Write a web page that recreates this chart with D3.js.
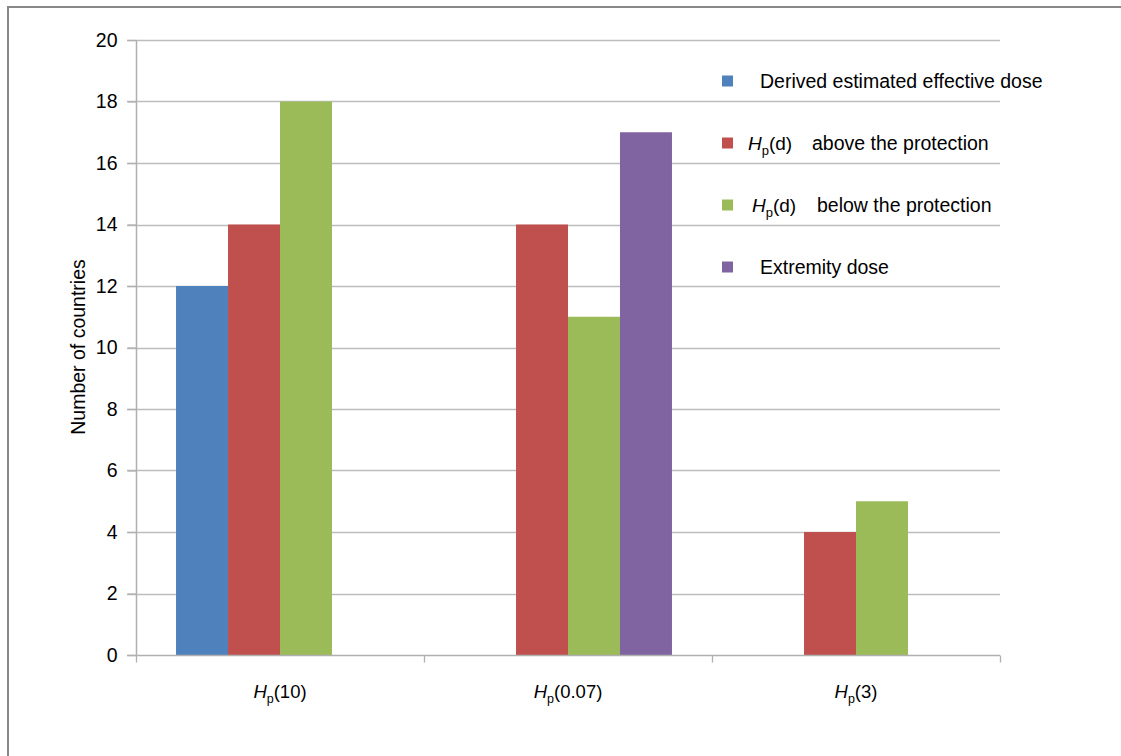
<!DOCTYPE html>
<html>
<head>
<meta charset="utf-8">
<script src="https://cdn.jsdelivr.net/npm/d3@7"></script>
<style>
  html, body { margin: 0; padding: 0; background: #fff; }
  svg { display: block; font-family: "Liberation Sans", "DejaVu Sans", sans-serif; }
</style>
</head>
<body>
<svg id="chart" width="1121" height="756"></svg>
<script>
// Dose quantities on the x axis (subscript p on H)
const categories = ["10", "0.07", "3"];
// Series and their per-category country counts (null = not reported)
const seriesNames = ["derived", "above", "below", "extremity"];
const derivedDose = [12, null, null];
const aboveProtection = [14, 14, 4];
const belowProtection = [18, 11, 5];
const extremityDose = [null, 17, null];
const seriesColors = ["#4F81BD", "#C0504D", "#9BBB59", "#8064A2"];
const yTicks = [0, 2, 4, 6, 8, 10, 12, 14, 16, 18, 20];

const seriesValues = [derivedDose, aboveProtection, belowProtection, extremityDose];

const svg = d3.select("#chart");
const margin = { left: 136, right: 1000, top: 40, bottom: 655 };

// outer frame (left and top edges visible)
svg.append("line").attr("x1", 8).attr("x2", 8).attr("y1", 7).attr("y2", 756)
  .attr("stroke", "#888").attr("stroke-width", 2);
svg.append("line").attr("x1", 7).attr("x2", 1121).attr("y1", 7).attr("y2", 7)
  .attr("stroke", "#888").attr("stroke-width", 2);

const x = d3.scaleBand().domain(categories).range([margin.left, margin.right]).paddingInner(0).paddingOuter(0);
const xSub = d3.scaleBand().domain(seriesNames).range([0, x.bandwidth()]).paddingOuter(0.77).paddingInner(0);
const y = d3.scaleLinear().domain([0, 20]).range([margin.bottom, margin.top]);

// horizontal gridlines
svg.append("g").selectAll("line").data(yTicks.filter(d => d > 0)).join("line")
  .attr("x1", margin.left - 9).attr("x2", margin.right)
  .attr("y1", d => Math.round(y(d)) + 0.5).attr("y2", d => Math.round(y(d)) + 0.5)
  .attr("stroke", "#BDBDBD").attr("stroke-width", 1.3);

// bars
const bars = [];
categories.forEach((c, i) => {
  seriesNames.forEach((s, j) => {
    const v = seriesValues[j][i];
    if (v != null) bars.push({ c, s, v, color: seriesColors[j] });
  });
});
svg.append("g").selectAll("rect").data(bars).join("rect")
  .attr("x", d => x(d.c) + xSub(d.s))
  .attr("width", xSub.bandwidth())
  .attr("y", d => y(d.v))
  .attr("height", d => y(0) - y(d.v))
  .attr("fill", d => d.color);

// y axis
const yAxis = svg.append("g").attr("transform", `translate(${margin.left + 0.5},0)`)
  .call(d3.axisLeft(y).tickValues(yTicks).tickSize(9).tickPadding(10).tickFormat(d3.format("d")));
yAxis.attr("font-size", null).attr("font-family", null);
yAxis.select(".domain").attr("stroke", "#B0B0B0").attr("stroke-width", 1.5).attr("d", `M0,${margin.top}V${margin.bottom}`);
yAxis.selectAll(".tick line").attr("stroke", "#B0B0B0").attr("stroke-width", 1.3);
yAxis.selectAll(".tick text").style("font-size", "19.5px").attr("fill", "#000");

// x axis
const xAxisG = svg.append("g").attr("transform", `translate(0,${Math.round(y(0)) + 0.5})`);
xAxisG.append("line").attr("x1", margin.left - 9).attr("x2", margin.right).attr("y1", 0).attr("y2", 0)
  .attr("stroke", "#B0B0B0").attr("stroke-width", 1.5);
const boundaries = categories.map(c => x(c)).concat([x(categories[categories.length - 1]) + x.bandwidth()]);
xAxisG.selectAll("line.tk").data(boundaries).join("line").attr("class", "tk")
  .attr("x1", d => d + 0.5).attr("x2", d => d + 0.5).attr("y1", 0).attr("y2", 7)
  .attr("stroke", "#B0B0B0").attr("stroke-width", 1.3);

const catLabels = svg.append("g").selectAll("text").data(categories).join("text")
  .attr("x", d => x(d) + x.bandwidth() / 2)
  .attr("y", 698)
  .attr("text-anchor", "middle")
  .style("font-size", "18.5px")
  .attr("fill", "#000");
catLabels.append("tspan").attr("font-style", "italic").text("H");
catLabels.append("tspan").style("font-size", "12.5px").attr("dy", 5).text("p");
catLabels.append("tspan").attr("dy", -5).text(d => `(${d})`);

// y axis title
svg.append("text")
  .attr("transform", "translate(85,347) rotate(-90)")
  .attr("text-anchor", "middle")
  .style("font-size", "19.5px")
  .attr("fill", "#000")
  .text("Number of countries");

// legend
const legendItems = [
  { color: seriesColors[0], top: 81, parts: [{ t: "Derived estimated effective dose", x: 760 }] },
  { color: seriesColors[1], top: 143, hp: 748, parts: [{ t: "above the protection", x: 812 }] },
  { color: seriesColors[2], top: 205, hp: 752, parts: [{ t: "below the protection", x: 817 }] },
  { color: seriesColors[3], top: 267, parts: [{ t: "Extremity dose", x: 760 }] }
];
const lg = svg.append("g");
legendItems.forEach(item => {
  lg.append("rect").attr("x", 722).attr("y", item.top - 5.5).attr("width", 11).attr("height", 11).attr("fill", item.color);
  if (item.hp) {
    const t = lg.append("text").attr("x", item.hp).attr("y", item.top + 7).style("font-size", "19px").attr("fill", "#000");
    t.append("tspan").attr("font-style", "italic").text("H");
    t.append("tspan").style("font-size", "13px").attr("dy", 5).text("p");
    t.append("tspan").attr("dy", -5).text("(d)");
  }
  item.parts.forEach(p => {
    lg.append("text").attr("x", p.x).attr("y", item.top + 7).style("font-size", "19.5px").attr("fill", "#000").text(p.t);
  });
});
</script>
</body>
</html>
